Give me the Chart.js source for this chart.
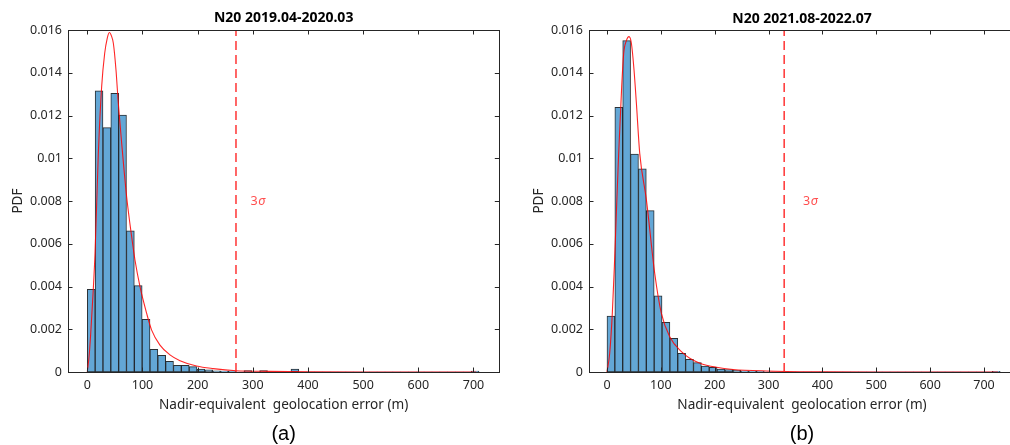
<!DOCTYPE html>
<html><head><meta charset="utf-8">
<script src="https://cdn.jsdelivr.net/npm/chart.js@4.4.0/dist/chart.umd.min.js"></script>
<style>
html,body{margin:0;padding:0;background:#fff;overflow:hidden;width:1010px;height:445px;}
canvas{position:absolute;top:0;}
#ca{left:0;} #cb{left:521px;}
</style></head><body>
<canvas id="ca" width="510" height="445"></canvas>
<canvas id="cb" width="510" height="445"></canvas>
<script>
// ---------- data ----------
const titles = ['N20 2019.04-2020.03', 'N20 2021.08-2022.07'];
const panelLabels = ['(a)', '(b)'];
const xTitle = 'Nadir-equivalent  geolocation error (m)';
const yTitle = 'PDF';
const xTicks = [0, 100, 200, 300, 400, 500, 600, 700];
const xTickLabels = ['0', '100', '200', '300', '400', '500', '600', '700'];
const yTicks = [0, 0.002, 0.004, 0.006, 0.008, 0.01, 0.012, 0.014, 0.016];
const yTickLabels = ['0', '0.002', '0.004', '0.006', '0.008', '0.01', '0.012', '0.014', '0.016'];

// histogram bin width (m) and PDF value of each bin, starting at 0 m
const binWidthA = 14.2;
const pdfA = [0.00387, 0.01315, 0.01143, 0.01304, 0.01202, 0.00661, 0.00404, 0.00246, 0.00106, 0.00078,
              0.00050, 0.00031, 0.00031, 0.00025, 0.00014, 0.00010, 0.00005, 0.00004, 0.00004, 0,
              0.00007, 0, 0.00007, 0, 0, 0, 0.00014, 0, 0, 0,
              0, 0, 0, 0, 0, 0, 0, 0, 0, 0,
              0, 0, 0, 0, 0, 0, 0, 0, 0, 0.00004];
const binWidthB = 14.6;
const pdfB = [0.00262, 0.01238, 0.01550, 0.01020, 0.00950, 0.00755, 0.00356, 0.00232, 0.00158, 0.00087,
              0.00059, 0.00044, 0.00028, 0.00022, 0.00014, 0.00011, 0.00008, 0.00006, 0.00004, 0.00004,
              0, 0, 0, 0, 0, 0, 0, 0, 0, 0,
              0, 0, 0, 0, 0, 0, 0, 0, 0, 0,
              0, 0, 0, 0, 0, 0, 0, 0, 0, 0.00003];

// fitted PDF curve
const fitXA = [0, 3.7, 8, 14, 20, 26, 31.5, 36, 40, 44, 47.2, 52, 56.2, 62.3, 71.3, 80.4, 86.4, 95.5, 107.6, 116.6, 131.7, 149.8, 168, 198, 228, 270, 330, 400, 500, 600, 705];
const fitYA = [0, 0.00087, 0.0026, 0.00555, 0.01023, 0.01335, 0.01491, 0.0156, 0.01588, 0.0157, 0.01538, 0.01413, 0.01257, 0.0107, 0.0082, 0.00633, 0.00524, 0.00399, 0.00274, 0.00196, 0.00126, 0.0008, 0.00053, 0.00028, 0.00016, 0.00006, 0.00003, 0.00001, 0, 0, 0];
const fitXB = [0, 5, 10, 13.7, 17.5, 21.7, 27.3, 31, 36, 40.9, 45.3, 50.2, 54.6, 60.8, 73.2, 88.6, 101, 116.5, 138.2, 153.7, 172.3, 203.3, 234.2, 296, 400, 500, 600, 726];
const fitYB = [0, 0.00087, 0.0028, 0.00493, 0.0075, 0.01023, 0.01335, 0.0149, 0.0155, 0.01569, 0.01538, 0.01413, 0.01257, 0.01023, 0.00805, 0.00462, 0.00274, 0.00165, 0.00095, 0.00064, 0.00041, 0.00022, 0.00012, 0.00005, 0.00001, 0, 0, 0];

// 3-sigma thresholds (m) and label anchor
const sigma3A = 269.5;
const sigma3B = 329;
const sigmaLabelXA = 296, sigmaLabelXB = 364, sigmaLabelY = 0.008;

// x-axis ranges
const xRangeA = [-35, 746.8];
const xRangeB = [-33.4, 757.6];

// ---------- rendering ----------
const FONT = "'Noto Sans', 'DejaVu Sans', sans-serif";
const AXC = '#262626';

const framePlugin = {
  id: 'frame',
  afterDatasetsDraw(chart, args, opts) {
    const ctx = chart.ctx;
    const x = chart.scales.x, y = chart.scales.y;
    const px = x.getPixelForValue(opts.labelX), py = y.getPixelForValue(opts.labelY);
    ctx.save();
    ctx.fillStyle = 'rgba(255,70,70,0.95)';
    ctx.textBaseline = 'middle';
    ctx.textAlign = 'left';
    ctx.font = "12.5px " + FONT;
    ctx.fillText('3', px, py);
    const w = ctx.measureText('3').width;
    ctx.font = "italic 12.5px " + FONT;
    ctx.fillText('\u03C3', px + w + 0.5, py);
    ctx.restore();
  },
  afterDraw(chart) {
    const ctx = chart.ctx;
    const {left, right, top, bottom} = chart.chartArea;
    const x = chart.scales.x, y = chart.scales.y;
    const L = 4.5;
    ctx.save();
    ctx.strokeStyle = AXC;
    ctx.lineWidth = 1;
    ctx.beginPath();
    x.ticks.forEach(t => {
      const p = Math.round(x.getPixelForValue(t.value)) + 0.5;
      ctx.moveTo(p, bottom); ctx.lineTo(p, bottom - L);
      ctx.moveTo(p, top); ctx.lineTo(p, top + L);
    });
    y.ticks.forEach(t => {
      const p = Math.round(y.getPixelForValue(t.value)) + 0.5;
      ctx.moveTo(left, p); ctx.lineTo(left + L, p);
      ctx.moveTo(right, p); ctx.lineTo(right - L, p);
    });
    ctx.stroke();
    ctx.strokeRect(Math.round(left) + 0.5, Math.round(top) + 0.5, Math.round(right - left), Math.round(bottom - top));
    ctx.restore();
  }
};

function makeChart(id, idx, binWidth, pdf, fitX, fitY, sigma3, labelX, xRange, padRight, padTop) {
  const bars = pdf.map((v, i) => ({x: i * binWidth + binWidth / 2, y: v}));
  const fit = fitX.map((v, i) => ({x: v, y: fitY[i]}));
  const sig = [{x: sigma3, y: 0}, {x: sigma3, y: yTicks[yTicks.length - 1]}];
  return new Chart(document.getElementById(id), {
    type: 'bar',
    data: {
      datasets: [
        {type: 'line', data: sig, borderColor: 'rgba(255,40,40,0.95)', borderWidth: 1.5, borderDash: [9, 5],
         pointRadius: 0, order: 1},
        {type: 'line', data: fit, borderColor: 'rgba(255,0,0,0.85)', borderWidth: 1.1, pointRadius: 0,
         cubicInterpolationMode: 'monotone', order: 2},
        {type: 'bar', data: bars, backgroundColor: 'rgb(99,167,214)',
         borderColor: 'rgba(20,25,30,0.9)',
         borderWidth: c => (c.raw && c.raw.y > 0) ? 1 : 0,
         borderSkipped: false, barPercentage: 1, categoryPercentage: 1, grouped: false, order: 3}
      ]
    },
    options: {
      responsive: false, animation: false, devicePixelRatio: 1,
      layout: {padding: {left: 0, right: padRight, top: padTop, bottom: 0}},
      plugins: {
        legend: {display: false}, tooltip: {enabled: false},
        title: {display: true, text: titles[idx], fullSize: false, color: '#000',
                font: {family: FONT, size: 14, weight: 'bold', lineHeight: 1.2},
                padding: {top: 9.5, bottom: 3.7 - padTop}},
        subtitle: {display: true, position: 'bottom', text: panelLabels[idx], fullSize: false, color: '#000',
                   font: {family: "'Liberation Sans', Arial, sans-serif", size: 20, weight: 'normal', lineHeight: 1.1},
                   padding: {top: 2, bottom: 0}},
        frame: {labelX: labelX, labelY: sigmaLabelY}
      },
      scales: {
        x: {type: 'linear', min: xRange[0], max: xRange[1], offset: false,
            grid: {display: false, drawTicks: false}, border: {display: false},
            afterBuildTicks: s => { s.ticks = xTicks.map(v => ({value: v})); },
            afterFit: s => { s.height = 49; },
            ticks: {autoSkip: false, maxRotation: 0, padding: 6, color: AXC,
                    font: {family: FONT, size: 12.5}, callback: (v, i) => xTickLabels[i]},
            title: {display: true, text: xTitle, color: AXC, font: {family: FONT, size: 13.6},
                    padding: {top: 7.8, bottom: 7.8}}},
        y: {type: 'linear', min: 0, max: yTicks[yTicks.length - 1],
            grid: {display: false, drawTicks: false}, border: {display: false},
            afterBuildTicks: s => { s.ticks = yTicks.map(v => ({value: v})); },
            afterFit: s => { s.width = 68; },
            ticks: {autoSkip: false, padding: 6, color: AXC,
                    font: {family: FONT, size: 12.5}, callback: (v, i) => yTickLabels[i]},
            title: {display: true, text: yTitle, color: AXC, font: {family: FONT, size: 13.6},
                    padding: {top: 9.8, bottom: 0}}}
      }
    },
    plugins: [framePlugin]
  });
}

makeChart('ca', 0, binWidthA, pdfA, fitXA, fitYA, sigma3A, sigmaLabelXA, xRangeA, 10.7, 0);
makeChart('cb', 1, binWidthB, pdfB, fitXB, fitYB, sigma3B, sigmaLabelXB, xRangeB, 16, 1);
</script>
</body></html>
